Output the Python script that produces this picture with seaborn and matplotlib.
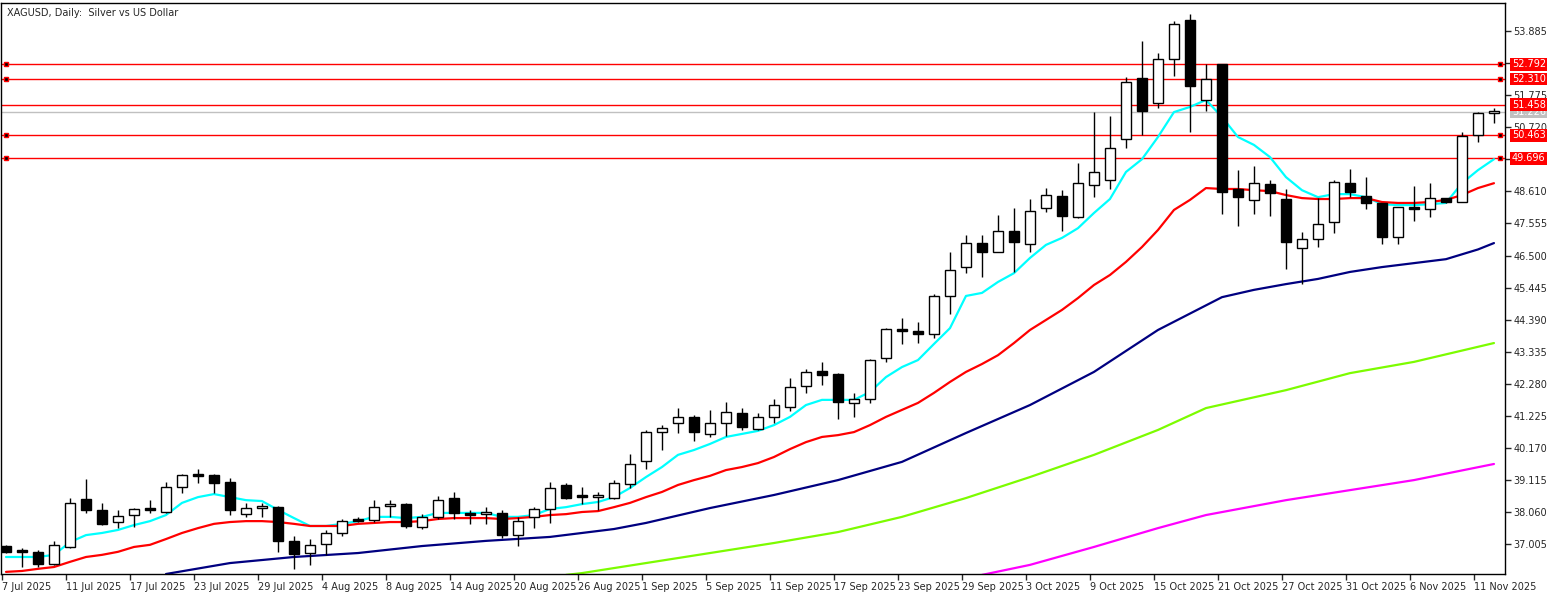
import numpy as np
import pandas as pd
import matplotlib
matplotlib.use("Agg")
import matplotlib.pyplot as plt
import seaborn as sns

opens = [36.94,36.81,36.74,36.35,36.91,38.49,38.13,37.73,37.96,38.20,38.06,38.89,39.28,39.28,39.05,37.99,38.20,38.23,37.10,
         36.71,37.01,37.37,37.79,37.79,38.26,38.33,37.56,37.89,38.52,37.99,37.99,38.03,37.30,37.89,38.16,38.95,38.56,38.55,38.52,
         38.99,39.75,40.70,40.99,41.19,40.62,40.99,41.32,40.79,41.19,41.52,42.21,42.70,42.60,41.65,41.78,43.13,44.02,44.02,43.92,45.17,
         46.13,46.92,46.62,47.31,46.88,48.06,48.46,47.77,48.82,48.98,50.33,52.34,51.52,52.96,54.25,51.62,52.80,
         48.69,48.33,48.85,48.36,46.75,47.04,47.60,48.89,48.46,48.23,47.11,48.10,48.03,48.39,48.26,50.46,51.20]
highs = [36.97,36.87,36.81,37.10,38.52,39.15,38.36,38.13,38.20,38.46,39.05,39.31,39.48,39.31,39.18,38.36,38.36,38.26,37.27,
         37.17,37.47,37.83,37.89,38.46,38.46,38.36,38.00,38.60,38.72,38.13,38.23,38.13,37.89,38.23,39.05,39.02,38.89,38.72,39.12,
         39.98,40.77,40.93,41.48,41.26,41.42,41.68,41.48,41.32,41.78,42.47,42.77,43.00,42.64,41.98,43.10,44.11,44.44,44.31,45.23,46.63,
         47.18,47.18,47.84,48.06,48.36,48.72,48.66,49.54,51.22,51.09,52.37,53.56,53.16,54.21,54.44,52.80,52.80,
         49.31,49.44,48.98,48.69,47.27,48.39,48.98,49.34,49.08,48.23,48.10,48.79,48.89,48.39,50.56,51.22,51.35]
lows = [36.71,36.25,36.25,36.32,36.87,38.03,37.64,37.53,37.56,38.03,38.03,38.70,39.02,38.67,37.96,37.89,37.89,36.74,36.19,
        36.32,36.65,37.27,37.73,37.73,37.89,37.53,37.50,37.83,37.83,37.66,37.66,37.20,36.94,37.53,37.70,38.49,38.33,38.13,38.49,
        38.85,39.49,40.10,40.66,40.39,40.52,40.56,40.76,40.76,40.99,41.38,41.98,42.24,41.12,41.19,41.65,42.99,43.58,43.62,43.79,44.59,
        45.93,45.79,46.62,45.96,46.62,47.93,47.31,47.74,48.43,48.69,50.04,50.46,51.35,52.40,50.56,51.25,47.87,
        47.46,47.87,47.80,46.06,45.56,46.78,47.24,48.43,48.03,46.88,46.88,47.63,47.77,48.23,48.26,50.24,50.86]
closes = [36.74,36.74,36.35,36.97,38.36,38.13,37.67,37.92,38.16,38.13,38.89,39.28,39.25,39.02,38.13,38.20,38.23,37.10,36.68,
          36.97,37.37,37.76,37.76,38.23,38.26,37.60,37.89,38.46,38.03,37.96,38.00,37.30,37.76,38.16,38.85,38.52,38.55,38.56,39.02,
          39.65,40.70,40.84,41.19,40.69,40.99,41.35,40.86,41.19,41.58,42.17,42.67,42.57,41.68,41.78,43.06,44.08,44.01,43.92,45.17,46.03,
          46.92,46.62,47.31,46.95,47.97,48.49,47.80,48.89,49.25,50.04,52.21,51.25,52.96,54.12,52.08,52.31,48.59,
          48.43,48.89,48.56,46.95,47.04,47.53,48.92,48.59,48.23,47.11,48.10,48.03,48.39,48.26,50.43,51.19,51.23]

ma_cyan = [36.58,36.58,36.58,36.65,37.07,37.30,37.37,37.47,37.63,37.76,37.96,38.36,38.55,38.65,38.55,38.45,38.42,38.13,37.86,
           37.60,37.60,37.67,37.76,37.90,37.90,37.86,37.90,38.03,38.03,38.03,38.03,37.90,37.90,37.96,38.16,38.22,38.32,38.39,38.55,
           38.85,39.21,39.54,39.94,40.10,40.30,40.53,40.63,40.73,40.92,41.19,41.58,41.75,41.75,41.75,42.01,42.50,42.83,43.06,43.59,44.11,
           45.17,45.27,45.63,45.92,46.42,46.85,47.08,47.40,47.90,48.36,49.25,49.67,50.40,51.22,51.39,51.62,51.06,
           50.40,50.14,49.74,49.08,48.65,48.42,48.52,48.52,48.42,48.19,48.16,48.16,48.19,48.23,48.88,49.31,49.67]
ma_red = [36.09,36.12,36.19,36.25,36.42,36.58,36.65,36.75,36.91,36.98,37.17,37.37,37.53,37.67,37.73,37.76,37.76,37.73,37.67,
          37.60,37.60,37.60,37.67,37.70,37.73,37.73,37.76,37.83,37.86,37.86,37.86,37.83,37.86,37.90,37.96,37.99,38.06,38.09,38.22,
          38.36,38.55,38.72,38.95,39.11,39.25,39.44,39.54,39.67,39.87,40.13,40.36,40.53,40.59,40.69,40.92,41.19,41.42,41.65,41.98,42.34,
          42.67,42.93,43.22,43.62,44.05,44.38,44.71,45.10,45.53,45.86,46.29,46.78,47.34,48.00,48.33,48.72,48.69,
          48.69,48.65,48.62,48.49,48.39,48.36,48.36,48.39,48.39,48.26,48.23,48.23,48.26,48.33,48.49,48.72,48.88]
navy_bars = [10,14,18,22,26,30,34,38,40,44,48,52,56,60,64,68,72,76,78,80,82,84,86,88,90,92,93]
ma_navy = [36.02,36.38,36.58,36.71,36.94,37.11,37.24,37.50,37.70,38.19,38.62,39.11,39.71,40.66,41.58,42.67,44.05,45.13,
           45.37,45.56,45.73,45.96,46.12,46.25,46.38,46.70,46.91]
green_bars = [35,36,40,44,48,52,56,60,64,68,72,75,80,84,88,93]
ma_green = [35.99,36.05,36.38,36.71,37.04,37.40,37.90,38.52,39.21,39.94,40.76,41.48,42.07,42.63,43.00,43.62]
magenta_bars = [61,64,68,72,75,80,84,88,93]
ma_magenta = [35.99,36.32,36.91,37.53,37.96,38.45,38.78,39.11,39.64]

date_labels = ["7 Jul 2025","11 Jul 2025","17 Jul 2025","23 Jul 2025","29 Jul 2025","4 Aug 2025","8 Aug 2025",
               "14 Aug 2025","20 Aug 2025","26 Aug 2025","1 Sep 2025","5 Sep 2025","11 Sep 2025","17 Sep 2025",
               "23 Sep 2025","29 Sep 2025","3 Oct 2025","9 Oct 2025","15 Oct 2025","21 Oct 2025","27 Oct 2025",
               "31 Oct 2025","6 Nov 2025","11 Nov 2025"]
price_ticks = [53.885,52.830,51.775,50.720,49.665,48.610,47.555,46.500,45.445,44.390,43.335,42.280,41.225,40.170,39.115,38.060,37.005]
red_levels = [52.792,52.310,51.458,50.463,49.696]
marked_levels = [52.792,52.310,50.463,49.696]
bid_level = 51.226
title = "XAGUSD, Daily:  Silver vs US Dollar"

sns.set_style("white")
plt.rcParams['font.family'] = ['DejaVu Sans']
W, H = 1563, 596
fig = plt.figure(figsize=(W/100, H/100), dpi=100)
ax = fig.add_axes([1/W, 22/H, 1504/W, 571/H])
n = len(opens)
idx = np.arange(n)
ax.set_xlim(-0.3125, 93.69)
ax.set_ylim(36.02, 54.81)

# level lines
for lv in red_levels:
    ax.axhline(lv, color="#ff0000", lw=1.0, zorder=1)
ax.axhline(bid_level, color="#c0c0c0", lw=1.0, zorder=1)

# moving averages
df = pd.DataFrame({"i": idx, "cyan": ma_cyan, "red": ma_red})
sns.lineplot(data=df, x="i", y="cyan", color="#00ffff", lw=1.6, ax=ax, zorder=2, drawstyle="default")
sns.lineplot(data=df, x="i", y="red", color="#ff0000", lw=1.6, ax=ax, zorder=2)
sns.lineplot(x=navy_bars, y=ma_navy, color="#000080", lw=1.6, ax=ax, zorder=2)
sns.lineplot(x=green_bars, y=ma_green, color="#7cfc00", lw=1.6, ax=ax, zorder=2)
sns.lineplot(x=magenta_bars, y=ma_magenta, color="#ff00ff", lw=1.6, ax=ax, zorder=2)

# candles
o = np.array(opens); c = np.array(closes); h = np.array(highs); l = np.array(lows)
ax.vlines(idx, l, h, color="black", lw=1.0, zorder=3)
bot = np.minimum(o, c)
hgt = np.maximum(np.abs(c - o), 0.06)
cols = np.where(c >= o, "white", "black")
ax.bar(idx, hgt, bottom=bot, width=0.62, color=cols, edgecolor="black", linewidth=1.0, zorder=4)

# axes styling
for s in ["left", "bottom", "top", "right"]:
    ax.spines[s].set_visible(True)
    ax.spines[s].set_color("black")
    ax.spines[s].set_linewidth(1.0)
ax.set_xlabel(""); ax.set_ylabel("")
ax.yaxis.tick_right()
shown = [t for t in price_ticks if t not in (52.830, 49.665)]
ax.set_yticks(price_ticks)
ax.set_yticklabels([f"{t:.3f}" if t in shown else "" for t in price_ticks], fontsize=7)
ax.tick_params(axis="y", direction="out", length=4, pad=2, right=True, left=False, width=1)
xt = [4*k - 0.25 for k in range(len(date_labels))]
ax.set_xticks(xt)
ax.set_xticklabels(date_labels, fontsize=7, ha="left")
ax.tick_params(axis="x", direction="out", length=4, pad=2, bottom=True, width=1)

ax.text(0.004, 0.992, title, transform=ax.transAxes, fontsize=7, va="top", ha="left")

trans = ax.get_yaxis_transform()
for lv in red_levels:
    ax.text(1.0045, lv, f"{lv:.3f}", transform=trans, fontsize=7, color="white", va="center", ha="left",
            bbox=dict(boxstyle="square,pad=0.15", fc="#ff0000", ec="none"), clip_on=False, zorder=6)
ax.text(1.0045, bid_level, f"{bid_level:.3f}", transform=trans, fontsize=7, color="white", va="center", ha="left",
        bbox=dict(boxstyle="square,pad=0.15", fc="#c0c0c0", ec="none"), clip_on=False, zorder=5)
for lv in marked_levels:
    ax.plot([0.003], [lv], marker="s", ms=3.5, color="black", mec="#ff0000", transform=trans, clip_on=False, zorder=6)
    ax.plot([0.997], [lv], marker="s", ms=3.5, color="black", mec="#ff0000", transform=trans, clip_on=False, zorder=6)

fig.savefig("out.png", dpi=100, facecolor="white")
